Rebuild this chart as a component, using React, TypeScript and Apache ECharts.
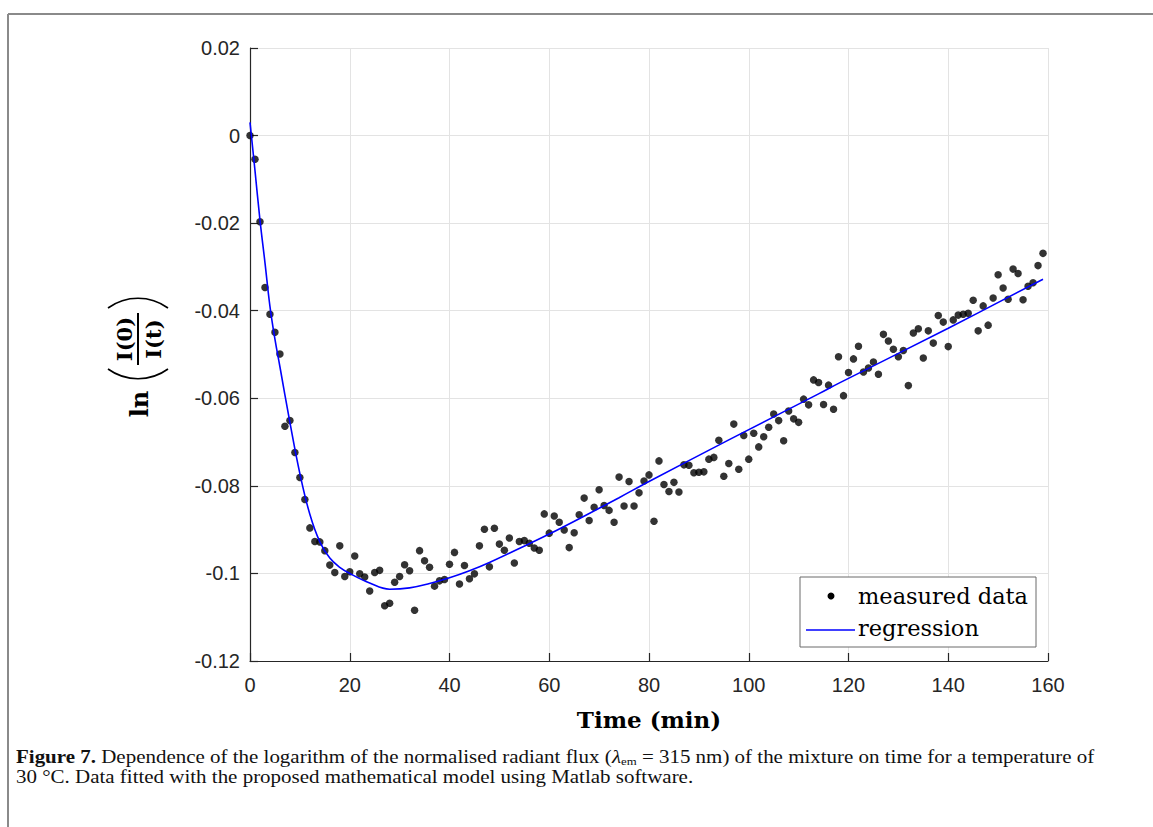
import React, { useEffect, useRef } from "react";
import * as echarts from "echarts";

// Measured data: time (min) and ln(I(0)/I(t))
const times = [
  0, 1, 2, 3, 4, 5, 6, 7, 8, 9, 10, 11, 12, 13, 14, 15, 16, 17, 18, 19,
  20, 21, 22, 23, 24, 25, 26, 27, 28, 29, 30, 31, 32, 33, 34, 35, 36, 37, 38, 39,
  40, 41, 42, 43, 44, 45, 46, 47, 48, 49, 50, 51, 52, 53, 54, 55, 56, 57, 58, 59,
  60, 61, 62, 63, 64, 65, 66, 67, 68, 69, 70, 71, 72, 73, 74, 75, 76, 77, 78, 79,
  80, 81, 82, 83, 84, 85, 86, 87, 88, 89, 90, 91, 92, 93, 94, 95, 96, 97, 98, 99,
  100, 101, 102, 103, 104, 105, 106, 107, 108, 109, 110, 111, 112, 113, 114, 115, 116, 117, 118, 119,
  120, 121, 122, 123, 124, 125, 126, 127, 128, 129, 130, 131, 132, 133, 134, 135, 136, 137, 138, 139,
  140, 141, 142, 143, 144, 145, 146, 147, 148, 149, 150, 151, 152, 153, 154, 155, 156, 157, 158, 159,
];
const measured = [
  0, -0.0054, -0.0197, -0.0347, -0.0408, -0.0449, -0.0499, -0.0664, -0.0651, -0.0724,
  -0.0781, -0.0831, -0.0896, -0.0927, -0.0928, -0.0948, -0.0981, -0.0998, -0.0937, -0.1007,
  -0.0996, -0.096, -0.1001, -0.1008, -0.104, -0.0998, -0.0993, -0.1074, -0.1068, -0.102,
  -0.1007, -0.098, -0.0994, -0.1084, -0.0948, -0.0971, -0.0986, -0.1029, -0.1017, -0.1014,
  -0.0979, -0.0952, -0.1024, -0.0982, -0.1012, -0.1001, -0.0937, -0.0899, -0.0985, -0.0897,
  -0.0933, -0.0947, -0.0919, -0.0976, -0.0927, -0.0925, -0.0931, -0.0942, -0.0947, -0.0864,
  -0.0908, -0.0869, -0.0883, -0.0901, -0.0941, -0.0907, -0.0866, -0.0828, -0.0879, -0.0849,
  -0.0809, -0.0845, -0.0856, -0.0883, -0.078, -0.0846, -0.079, -0.0846, -0.0816, -0.0789,
  -0.0775, -0.0881, -0.0743, -0.0797, -0.0813, -0.0792, -0.0814, -0.0752, -0.0753, -0.077,
  -0.0769, -0.0768, -0.0739, -0.0735, -0.0696, -0.0778, -0.0749, -0.0659, -0.0762, -0.0685,
  -0.0739, -0.068, -0.0711, -0.0688, -0.0666, -0.0636, -0.0651, -0.0697, -0.0629, -0.0647,
  -0.0655, -0.0602, -0.0615, -0.0558, -0.0564, -0.0614, -0.057, -0.0625, -0.0505, -0.0594,
  -0.0541, -0.051, -0.0481, -0.054, -0.0531, -0.0517, -0.0545, -0.0454, -0.0469, -0.0488,
  -0.0505, -0.0491, -0.0571, -0.0451, -0.0441, -0.0508, -0.0446, -0.0474, -0.0411, -0.0426,
  -0.0482, -0.0421, -0.041, -0.0408, -0.0406, -0.0376, -0.0446, -0.0389, -0.0433, -0.0371,
  -0.0318, -0.0348, -0.0374, -0.0305, -0.0315, -0.0375, -0.0344, -0.0336, -0.0297, -0.0269,
];

// Regression curve, sampled from the figure
const regTimes = [0, 1, 2, 3, 4, 5, 6, 8, 10, 12, 14, 16, 18, 20, 24, 28, 32, 36, 40, 44, 48, 56, 60, 66, 74, 80, 96, 114, 118, 140, 159];
const regValues = [
  0.003, -0.008, -0.0193, -0.029, -0.039, -0.0465, -0.0528, -0.0655, -0.0772, -0.0865,
  -0.0928, -0.0965, -0.0986, -0.1, -0.1022, -0.1036, -0.1033, -0.1023, -0.101, -0.0994,
  -0.0975, -0.0932, -0.091, -0.0875, -0.0827, -0.079, -0.0695, -0.059, -0.0566, -0.044, -0.0328,
];

const legendLabels = ["measured data", "regression"];
const xTitle = "Time (min)";
const caption =
  "{b|Figure 7.} Dependence of the logarithm of the normalised radiant flux ({i|λ}{s|em} = 315 nm) of the mixture on time for a temperature of\n30 °C. Data fitted with the proposed mathematical model using Matlab software.";

const AXIS_COLOR = "#262626";

export default function App() {
  const ref = useRef<HTMLDivElement>(null);
  useEffect(() => {
    if (!ref.current) return;
    const chart = echarts.init(ref.current, undefined, { renderer: "svg" });
    const yLabelGroup = {
      type: "group",
      x: 138,
      y: 340,
      rotation: Math.PI / 2,
      children: [
        {
          type: "text",
          x: -64,
          y: 1,
          style: { text: "ln", fontFamily: "DejaVu Serif", fontWeight: "bold", fontSize: 24, fill: "#000", align: "center", verticalAlign: "middle", textAlign: "center", textVerticalAlign: "middle" },
        },
        {
          type: "bezierCurve",
          shape: { x1: -29, y1: -30, x2: -29, y2: 30, cpx1: -42, cpy1: -12, cpx2: -42, cpy2: 12 },
          style: { stroke: "#000", lineWidth: 1.6, fill: "none" },
        },
        {
          type: "bezierCurve",
          shape: { x1: 32, y1: -30, x2: 32, y2: 30, cpx1: 45, cpy1: -12, cpx2: 45, cpy2: 12 },
          style: { stroke: "#000", lineWidth: 1.6, fill: "none" },
        },
        {
          type: "line",
          shape: { x1: -25, y1: 0, x2: 27, y2: 0 },
          style: { stroke: "#000", lineWidth: 2 },
        },
        {
          type: "text",
          x: 1,
          y: -14,
          style: { text: "I(0)", fontFamily: "DejaVu Serif", fontWeight: "bold", fontSize: 21, fill: "#000", align: "center", verticalAlign: "middle", textAlign: "center", textVerticalAlign: "middle" },
        },
        {
          type: "text",
          x: 1,
          y: 15,
          style: { text: "I(t)", fontFamily: "DejaVu Serif", fontWeight: "bold", fontSize: 21, fill: "#000", align: "center", verticalAlign: "middle", textAlign: "center", textVerticalAlign: "middle" },
        },
      ],
    };
    const option: any = {
      animation: false,
      grid: { left: 250, right: 105, top: 48, bottom: 166 },
      xAxis: {
        type: "value",
        min: 0,
        max: 160,
        interval: 20,
        axisLine: { show: true, onZero: false, lineStyle: { color: AXIS_COLOR, width: 1.2 } },
        axisTick: { show: true, inside: true, length: 8, lineStyle: { color: AXIS_COLOR, width: 1.2 } },
        axisLabel: { color: AXIS_COLOR, fontFamily: "Liberation Sans", fontSize: 20, margin: 14 },
        splitLine: { show: true, lineStyle: { color: "#e3e3e3", width: 1 } },
      },
      yAxis: {
        type: "value",
        min: -0.12,
        max: 0.02,
        interval: 0.02,
        axisLine: { show: true, onZero: false, lineStyle: { color: AXIS_COLOR, width: 1.2 } },
        axisTick: { show: true, inside: true, length: 8, lineStyle: { color: AXIS_COLOR, width: 1.2 } },
        axisLabel: {
          color: AXIS_COLOR,
          fontFamily: "Liberation Sans",
          fontSize: 20,
          margin: 10,
          formatter: (v: number) => String(parseFloat(v.toFixed(2))),
        },
        splitLine: { show: true, lineStyle: { color: "#e3e3e3", width: 1 } },
      },
      series: [
        {
          name: legendLabels[0],
          type: "scatter",
          data: times.map((t, i) => [t, measured[i]]),
          symbol: "circle",
          symbolSize: 7.5,
          itemStyle: { color: "#000" },
        },
        {
          name: legendLabels[1],
          type: "line",
          data: regTimes.map((t, i) => [t, regValues[i]]),
          smooth: 0.4,
          showSymbol: false,
          lineStyle: { color: "#0000ff", width: 1.6 },
        },
      ],
      graphic: [
        { type: "line", shape: { x1: 8, y1: 14, x2: 1153, y2: 14 }, style: { stroke: "#8a8a8a", lineWidth: 2 } },
        { type: "line", shape: { x1: 8, y1: 14, x2: 8, y2: 827 }, style: { stroke: "#8a8a8a", lineWidth: 2 } },
        yLabelGroup,
        {
          type: "text",
          x: 649,
          y: 719,
          style: { text: xTitle, fontFamily: "DejaVu Serif", fontWeight: "bold", fontSize: 23, fill: "#000", align: "center", verticalAlign: "middle", textAlign: "center", textVerticalAlign: "middle" },
        },
        {
          type: "rect",
          shape: { x: 800, y: 577, width: 236, height: 70 },
          style: { fill: "#fff", stroke: "#6a6a6a", lineWidth: 1 },
          z: 10,
        },
        { type: "circle", shape: { cx: 831, cy: 596, r: 3.5 }, style: { fill: "#000" }, z: 11 },
        { type: "line", shape: { x1: 806, y1: 630, x2: 855, y2: 630 }, style: { stroke: "#0000ff", lineWidth: 1.6 }, z: 11 },
        {
          type: "text",
          x: 858,
          y: 596,
          z: 11,
          style: { text: legendLabels[0], fontFamily: "DejaVu Serif", fontSize: 22.5, fill: "#000", align: "left", verticalAlign: "middle", textAlign: "left", textVerticalAlign: "middle" },
        },
        {
          type: "text",
          x: 858,
          y: 628,
          z: 11,
          style: { text: legendLabels[1], fontFamily: "DejaVu Serif", fontSize: 22.5, fill: "#000", align: "left", verticalAlign: "middle", textAlign: "left", textVerticalAlign: "middle" },
        },
        {
          type: "text",
          x: 16,
          y: 747,
          scaleX: 1.165,
          style: {
            text: caption,
            fontFamily: "Liberation Serif",
            fontSize: 18,
            lineHeight: 20,
            fill: "#111",
            align: "left",
            verticalAlign: "top",
            textAlign: "left",
            textVerticalAlign: "top",
            rich: {
              b: { fontFamily: "Liberation Serif", fontWeight: "bold", fontSize: 18, fill: "#111", lineHeight: 20 },
              i: { fontFamily: "Liberation Serif", fontStyle: "italic", fontSize: 18, fill: "#111", lineHeight: 20 },
              s: { fontFamily: "Liberation Serif", fontSize: 11, fill: "#111", verticalAlign: "bottom", lineHeight: 11 },
            },
          },
        },
      ],
    };
    chart.setOption(option);
    return () => chart.dispose();
  }, []);
  return <div ref={ref} style={{ width: 1153, height: 827, position: "absolute", left: 0, top: 0 }} />;
}
